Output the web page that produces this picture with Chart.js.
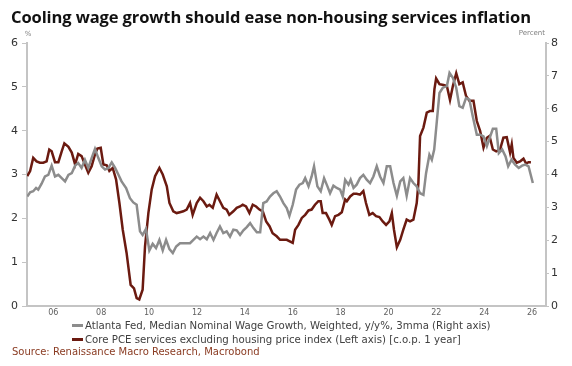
<!DOCTYPE html>
<html>
<head>
<meta charset="utf-8">
<script src="https://cdn.jsdelivr.net/npm/chart.js@4.4.1/dist/chart.umd.min.js"></script>
<style>
  body { margin: 0; background: #fff; }
  #wrap { position: relative; width: 572px; height: 366px; overflow: hidden; background: #fff; }
  #chart { position: absolute; left: 0; top: 0; }
  .title { position: absolute; left: 11px; top: 5px; font: bold 16.5px 'Open Sans', sans-serif; color: #111; white-space: nowrap; letter-spacing: -0.1px; }
  .legend { position: absolute; left: 72px; font: 10.2px 'DejaVu Sans', sans-serif; color: #404040; white-space: nowrap; }
  .legend i { display: inline-block; width: 11px; height: 3px; vertical-align: middle; margin-right: 2px; position: relative; top: -1px; }
  .source { position: absolute; left: 12px; top: 346px; font: 10px 'DejaVu Sans', sans-serif; color: #8a3b22; white-space: nowrap; }
</style>
</head>
<body>
<div id="wrap">
  <canvas id="chart" width="572" height="366"></canvas>
  <div class="title">Cooling wage growth should ease non-housing services inflation</div>
  <div class="legend" style="top:320px"><i style="background:#8c8c8c"></i>Atlanta Fed, Median Nominal Wage Growth, Weighted, y/y%, 3mma (Right axis)</div>
  <div class="legend" style="top:334px"><i style="background:#6b1a10"></i>Core PCE services excluding housing price index (Left axis) [c.o.p. 1 year]</div>
  <div class="source">Source: Renaissance Macro Research, Macrobond</div>
</div>
<script>
// x positions are decimal years
const xTicks = [2006, 2008, 2010, 2012, 2014, 2016, 2018, 2020, 2022, 2024, 2026];

const pceYears = [
  2004.91, 2005.03, 2005.16, 2005.30, 2005.44, 2005.58, 2005.72, 2005.83, 2005.93, 2006.07,
  2006.21, 2006.35, 2006.46, 2006.63, 2006.77, 2006.91, 2007.04, 2007.18, 2007.32, 2007.46,
  2007.60, 2007.74, 2007.84, 2007.98, 2008.09, 2008.23, 2008.34, 2008.48, 2008.62, 2008.76,
  2008.90, 2009.06, 2009.23, 2009.37, 2009.48, 2009.59, 2009.73, 2009.83, 2009.97, 2010.11,
  2010.25, 2010.43, 2010.57, 2010.74, 2010.85, 2011.01, 2011.15, 2011.29, 2011.43, 2011.57,
  2011.71, 2011.82, 2011.99, 2012.13, 2012.27, 2012.41, 2012.52, 2012.66, 2012.82, 2012.96,
  2013.10, 2013.24, 2013.35, 2013.52, 2013.66, 2013.80, 2013.91, 2014.05, 2014.19, 2014.33,
  2014.47, 2014.61, 2014.75, 2014.89, 2015.03, 2015.16, 2015.33, 2015.47, 2015.75, 2016.00,
  2016.10, 2016.24, 2016.38, 2016.52, 2016.66, 2016.79, 2016.93, 2017.07, 2017.17, 2017.25,
  2017.39, 2017.53, 2017.63, 2017.77, 2017.91, 2018.05, 2018.19, 2018.26, 2018.40, 2018.54,
  2018.67, 2018.81, 2018.95, 2019.06, 2019.20, 2019.34, 2019.48, 2019.62, 2019.76, 2019.90,
  2020.04, 2020.14, 2020.23, 2020.35, 2020.49, 2020.62, 2020.76, 2020.90, 2021.04, 2021.18,
  2021.25, 2021.32, 2021.46, 2021.60, 2021.74, 2021.85, 2021.92, 2021.99, 2022.13, 2022.30,
  2022.44, 2022.57, 2022.69, 2022.83, 2022.96, 2023.10, 2023.24, 2023.38, 2023.55, 2023.69,
  2023.83, 2023.97, 2024.11, 2024.22, 2024.36, 2024.50, 2024.66, 2024.80, 2024.94, 2025.08,
  2025.15, 2025.22, 2025.36, 2025.50, 2025.64, 2025.75, 2025.85, 2025.95
];
const pceValues = [
  2.96, 3.08, 3.38, 3.30, 3.27, 3.27, 3.30, 3.57, 3.53, 3.28,
  3.28, 3.53, 3.71, 3.63, 3.50, 3.23, 3.47, 3.42, 3.23, 3.04,
  3.19, 3.46, 3.59, 3.61, 3.23, 3.21, 3.08, 3.15, 2.89, 2.35,
  1.74, 1.21, 0.48, 0.40, 0.18, 0.15, 0.37, 1.36, 2.12, 2.66,
  2.96, 3.15, 3.00, 2.73, 2.35, 2.16, 2.12, 2.14, 2.16, 2.20,
  2.35, 2.08, 2.35, 2.47, 2.39, 2.27, 2.31, 2.24, 2.54, 2.39,
  2.24, 2.20, 2.08, 2.16, 2.24, 2.27, 2.31, 2.27, 2.12, 2.31,
  2.27, 2.20, 2.16, 1.93, 1.82, 1.66, 1.59, 1.51, 1.51, 1.44,
  1.74, 1.85, 2.01, 2.08, 2.18, 2.20, 2.31, 2.39, 2.39, 2.12,
  2.12, 1.97, 1.85, 2.05, 2.08, 2.14, 2.43, 2.39, 2.50, 2.56,
  2.56, 2.54, 2.62, 2.35, 2.08, 2.12, 2.05, 2.03, 1.93, 1.85,
  1.93, 2.12, 1.74, 1.34, 1.51, 1.74, 1.97, 1.93, 1.97, 2.35,
  2.81, 3.88, 4.07, 4.41, 4.45, 4.45, 4.95, 5.19, 5.06, 5.04,
  5.02, 4.70, 5.02, 5.31, 5.06, 5.10, 4.79, 4.68, 4.68, 4.22,
  3.99, 3.61, 3.84, 3.88, 3.57, 3.53, 3.57, 3.84, 3.85, 3.50,
  3.69, 3.38, 3.27, 3.30, 3.36, 3.25, 3.28, 3.28
];

const wageYears = [
  2004.91, 2005.03, 2005.16, 2005.28, 2005.37, 2005.51, 2005.65, 2005.79, 2005.93, 2006.07,
  2006.21, 2006.35, 2006.49, 2006.63, 2006.77, 2006.91, 2007.04, 2007.18, 2007.32, 2007.46,
  2007.60, 2007.74, 2007.88, 2008.02, 2008.16, 2008.30, 2008.44, 2008.58, 2008.72, 2008.85,
  2009.04, 2009.20, 2009.34, 2009.48, 2009.62, 2009.73, 2009.87, 2010.01, 2010.15, 2010.29,
  2010.43, 2010.57, 2010.71, 2010.85, 2010.99, 2011.13, 2011.29, 2011.50, 2011.71, 2011.85,
  2011.99, 2012.13, 2012.27, 2012.41, 2012.55, 2012.69, 2012.82, 2012.96, 2013.10, 2013.24,
  2013.38, 2013.52, 2013.66, 2013.80, 2013.94, 2014.08, 2014.22, 2014.36, 2014.50, 2014.64,
  2014.77, 2014.91, 2015.05, 2015.19, 2015.33, 2015.47, 2015.61, 2015.75, 2015.86, 2016.00,
  2016.14, 2016.28, 2016.42, 2016.52, 2016.66, 2016.79, 2016.89, 2017.03, 2017.17, 2017.31,
  2017.45, 2017.56, 2017.70, 2017.84, 2017.98, 2018.09, 2018.19, 2018.33, 2018.42, 2018.54,
  2018.67, 2018.81, 2018.95, 2019.09, 2019.23, 2019.37, 2019.51, 2019.65, 2019.79, 2019.93,
  2020.07, 2020.21, 2020.35, 2020.49, 2020.62, 2020.76, 2020.90, 2021.04, 2021.18, 2021.32,
  2021.46, 2021.57, 2021.71, 2021.81, 2021.91, 2022.02, 2022.13, 2022.27, 2022.44, 2022.55,
  2022.69, 2022.83, 2022.96, 2023.10, 2023.24, 2023.38, 2023.52, 2023.69, 2023.83, 2023.97,
  2024.11, 2024.25, 2024.36, 2024.50, 2024.61, 2024.75, 2024.89, 2025.00, 2025.14, 2025.29,
  2025.44, 2025.58, 2025.72, 2025.85, 2026.03
];
const wageValues = [
  3.33, 3.46, 3.49, 3.59, 3.54, 3.72, 3.94, 3.99, 4.27, 3.94,
  3.99, 3.89, 3.79, 3.99, 4.04, 4.27, 4.35, 4.20, 4.45, 4.20,
  4.50, 4.78, 4.50, 4.25, 4.15, 4.20, 4.37, 4.20, 3.99, 3.79,
  3.59, 3.28, 3.15, 3.08, 2.27, 2.16, 2.34, 1.69, 1.89, 1.76,
  2.01, 1.69, 2.01, 1.73, 1.61, 1.81, 1.91, 1.91, 1.91, 2.01,
  2.11, 2.03, 2.11, 2.03, 2.22, 2.01, 2.22, 2.42, 2.22, 2.27,
  2.11, 2.32, 2.30, 2.16, 2.30, 2.40, 2.52, 2.37, 2.24, 2.24,
  3.13, 3.18, 3.33, 3.43, 3.49, 3.33, 3.13, 2.98, 2.74, 3.08,
  3.54, 3.69, 3.74, 3.89, 3.64, 3.94, 4.25, 3.64, 3.49, 3.89,
  3.64, 3.43, 3.66, 3.59, 3.54, 3.33, 3.84, 3.69, 3.84, 3.59,
  3.69, 3.89, 3.99, 3.84, 3.74, 3.94, 4.25, 3.94, 3.74, 4.25,
  4.25, 3.74, 3.35, 3.79, 3.89, 3.35, 3.89, 3.74, 3.64, 3.43,
  3.38, 4.04, 4.60, 4.45, 4.76, 5.62, 6.48, 6.64, 6.69, 7.09,
  6.94, 6.64, 6.08, 6.03, 6.33, 6.28, 5.77, 5.21, 5.21, 5.16,
  4.86, 5.16, 5.39, 5.39, 4.65, 4.76, 4.55, 4.25, 4.45, 4.30,
  4.20, 4.27, 4.30, 4.25, 3.74
];

const toPoints = (xs, ys) => xs.map((x, i) => ({ x: x, y: ys[i] }));

// small unit captions above each y axis
const axisUnits = {
  id: 'axisUnits',
  afterDraw(chart) {
    const { ctx, chartArea } = chart;
    ctx.save();
    ctx.font = "7px 'DejaVu Sans', sans-serif";
    ctx.fillStyle = '#808080';
    ctx.textBaseline = 'middle';
    ctx.textAlign = 'center';
    ctx.fillText('%', chartArea.left + 1, chartArea.top - 9);
    ctx.textAlign = 'right';
    ctx.fillText('Percent', chartArea.right - 1, chartArea.top - 10);
    ctx.restore();
  }
};

const axisGray = '#c4c4c4';

new Chart(document.getElementById('chart'), {
  type: 'line',
  data: {
    datasets: [
      {
        label: 'Core PCE services excluding housing price index (Left axis) [c.o.p. 1 year]',
        data: toPoints(pceYears, pceValues),
        borderColor: '#6b1a10',
        borderWidth: 2.5,
        pointRadius: 0,
        tension: 0,
        yAxisID: 'y',
        order: 2
      },
      {
        label: 'Atlanta Fed, Median Nominal Wage Growth, Weighted, y/y%, 3mma (Right axis)',
        data: toPoints(wageYears, wageValues),
        borderColor: '#8c8c8c',
        borderWidth: 2.5,
        pointRadius: 0,
        tension: 0,
        yAxisID: 'y1',
        order: 1
      }
    ]
  },
  options: {
    responsive: false,
    animation: false,
    events: [],
    layout: { padding: { top: 43, left: 0, right: 0, bottom: 0 } },
    plugins: { legend: { display: false }, tooltip: { enabled: false } },
    scales: {
      x: {
        type: 'linear',
        min: 2004.9,
        max: 2026.58,
        afterBuildTicks: (scale) => { scale.ticks = xTicks.map(v => ({ value: v })); },
        afterFit: (scale) => { scale.height = 60; },
        ticks: {
          callback: (v) => String(v).slice(2),
          font: { family: 'DejaVu Sans', size: 8 },
          color: '#606060',
          padding: 2,
          maxRotation: 0,
          autoSkip: false
        },
        grid: { display: false, drawTicks: false },
        border: { color: axisGray, width: 2 }
      },
      y: {
        position: 'left',
        min: 0,
        max: 6,
        afterFit: (scale) => { scale.width = 27; },
        ticks: {
          stepSize: 1,
          font: { family: 'DejaVu Sans', size: 11 },
          color: '#333',
          padding: 4
        },
        grid: { drawOnChartArea: false, tickLength: 5, color: axisGray, lineWidth: 1 },
        border: { color: axisGray, width: 2 }
      },
      y1: {
        position: 'right',
        min: 0,
        max: 8,
        afterFit: (scale) => { scale.width = 26; },
        ticks: {
          stepSize: 1,
          font: { family: 'DejaVu Sans', size: 11 },
          color: '#333',
          padding: 2
        },
        grid: { drawOnChartArea: false, tickLength: 3, color: axisGray, lineWidth: 1 },
        border: { color: axisGray, width: 2 }
      }
    }
  },
  plugins: [axisUnits]
});
</script>
</body>
</html>
